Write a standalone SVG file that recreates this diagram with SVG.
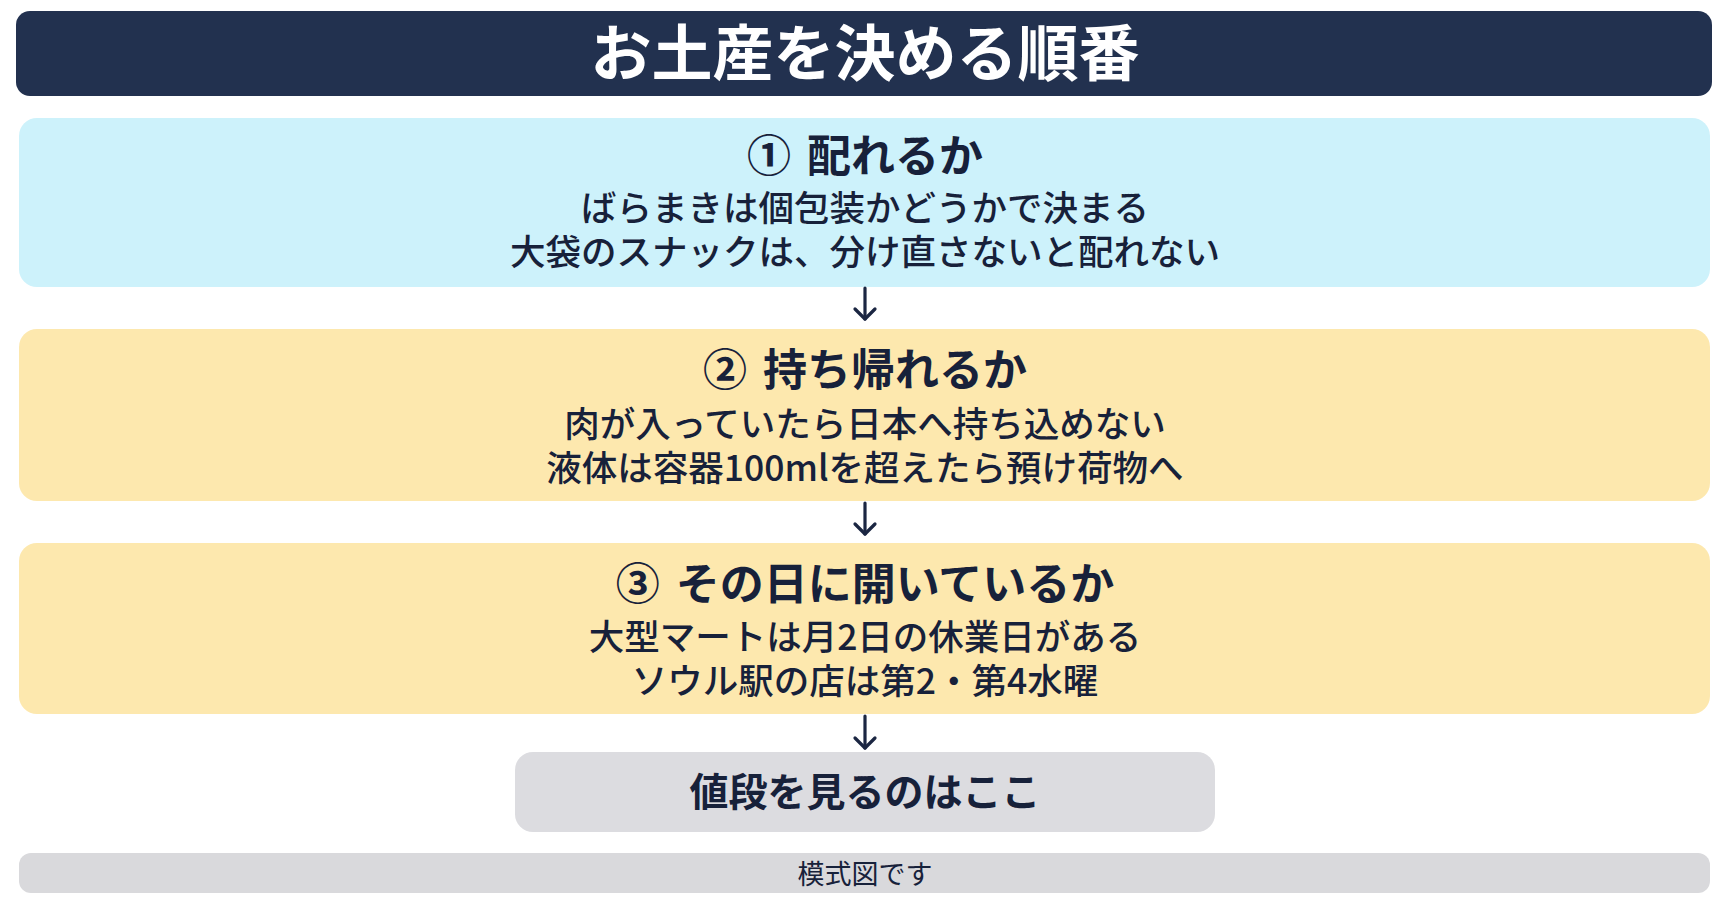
<svg xmlns="http://www.w3.org/2000/svg" width="1730" height="909" viewBox="0 0 1730 909">
<defs>
<style>
.t{font-family:"Noto Sans CJK JP","Noto Sans",sans-serif;text-anchor:middle;fill:#17213a}
.h{font-size:44px;font-weight:700}
.b{font-size:35.5px;font-weight:500}
.title{font-size:61px;font-weight:700;fill:#ffffff}
.conn{stroke:#1b2642;stroke-width:3.2;fill:none;stroke-linecap:round;stroke-linejoin:round}
</style>
</defs>
<rect width="1730" height="909" fill="#ffffff"/>
<g id="title">
<rect x="16" y="11" width="1696" height="85" rx="14" fill="#22314f"/>
<text class="t title" x="865" y="76">お土産を決める順番</text>
</g>
<g id="step1">
<rect x="19" y="118" width="1691" height="169" rx="18" fill="#cdf2fb"/>
<text class="t h" x="865" y="172">①<tspan dx="16">配れるか</tspan></text>
<text class="t b" x="865" y="221">ばらまきは個包装かどうかで決まる</text>
<text class="t b" x="865" y="265">大袋のスナックは、分け直さないと配れない</text>
</g>
<g id="step2">
<rect x="19" y="329" width="1691" height="172" rx="18" fill="#fde8ae"/>
<text class="t h" x="865" y="386">②<tspan dx="16">持ち帰れるか</tspan></text>
<text class="t b" x="865" y="437">肉が入っていたら日本へ持ち込めない</text>
<text class="t b" x="865" y="481">液体は容器100mlを超えたら預け荷物へ</text>
</g>
<g id="step3">
<rect x="19" y="543" width="1691" height="171" rx="18" fill="#fde8ae"/>
<text class="t h" x="865" y="600">③<tspan dx="16">その日に開いているか</tspan></text>
<text class="t b" x="865" y="650">大型マートは月2日の休業日がある</text>
<text class="t b" x="865" y="694">ソウル駅の店は第2・第4水曜</text>
</g>
<g id="price">
<rect x="515" y="752" width="700" height="80" rx="18" fill="#dcdce0"/>
<text class="t" x="865" y="806" style="font-size:39px;font-weight:700">値段を見るのはここ</text>
</g>
<g id="footer">
<rect x="19" y="853" width="1691" height="40" rx="12" fill="#d9d9dc"/>
<text class="t" x="865" y="884" style="font-size:27px;font-weight:400">模式図です</text>
</g>
<g id="connectors">
<line class="conn" x1="865" y1="288" x2="865" y2="319"/>
<path class="conn" d="M855,309 L865,319 L875,309"/>
<line class="conn" x1="865" y1="503" x2="865" y2="534"/>
<path class="conn" d="M855,524 L865,534 L875,524"/>
<line class="conn" x1="865" y1="716" x2="865" y2="748"/>
<path class="conn" d="M855,738 L865,748 L875,738"/>
</g>
</svg>
